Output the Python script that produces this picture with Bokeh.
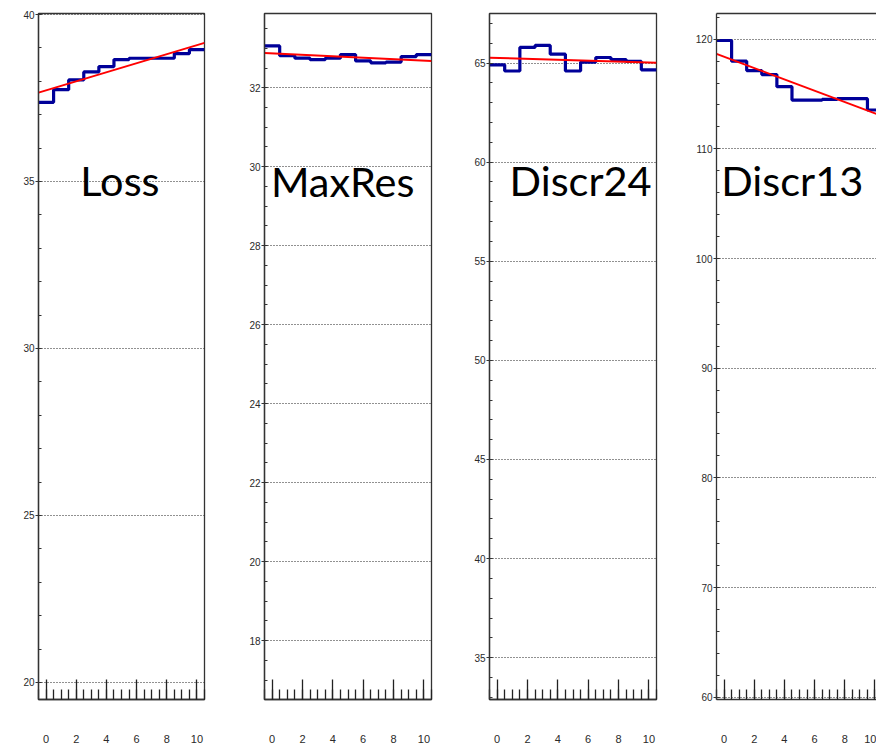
from bokeh.plotting import figure
from bokeh.layouts import row
from bokeh.models import FixedTicker, Label, LinearAxis
from bokeh.embed import file_html
from bokeh.resources import INLINE

# Bin centres shared by every panel (11 bins of width 1)
bin_centers = [0, 1, 2, 3, 4, 5, 6, 7, 8, 9, 10]
x_ticks = [0, 2, 4, 6, 8, 10]

# Per-bin values of each quantity
loss_values = [37.37, 37.75, 38.04, 38.28, 38.44, 38.65, 38.69, 38.69, 38.69, 38.83, 38.95]
maxres_values = [33.06, 32.81, 32.75, 32.71, 32.75, 32.84, 32.68, 32.63, 32.65, 32.79, 32.84]
discr24_values = [64.91, 64.60, 65.79, 65.89, 65.45, 64.60, 65.05, 65.28, 65.18, 65.08, 64.66]
discr13_values = [119.88, 117.99, 117.14, 116.77, 115.67, 114.45, 114.45, 114.51, 114.57, 114.57, 113.54]

# Linear fit values at the left and right histogram edges
loss_fit = [37.66, 39.15]
maxres_fit = [32.88, 32.68]
discr24_fit = [65.27, 65.02]
discr13_fit = [118.66, 112.97]

# y-axis tick labels (major) for each panel
loss_yticks = [20, 25, 30, 35, 40]
maxres_yticks = [18, 20, 22, 24, 26, 28, 30, 32]
discr24_yticks = [35, 40, 45, 50, 55, 60, 65]
discr13_yticks = [60, 70, 80, 90, 100, 110, 120]

FRAME = "#333333"
TICK_FONT = "Liberation Sans"


def frange(a, b, step):
    out = []
    v = a
    while v <= b + 1e-9:
        out.append(round(v, 4))
        v += step
    return out


def panel(values, fit, yticks, yminor_step, y_range, x_end, title, title_xy,
          width, border_left, border_right, outline=True):
    edges = [c - 0.5 for c in bin_centers] + [bin_centers[-1] + 0.5]
    p = figure(width=width, height=746, x_range=(-0.5, x_end), y_range=y_range,
               output_backend="svg", toolbar_location=None,
               min_border_left=border_left, min_border_right=border_right,
               min_border_top=13, min_border_bottom=47)
    p.background_fill_color = "white"
    p.border_fill_color = "white"
    p.outline_line_color = FRAME if outline else None
    p.outline_line_width = 1.3

    # x axis: long ticks pointing into the frame, labels far below
    xa = p.xaxis[0]
    xa.ticker = FixedTicker(ticks=x_ticks, minor_ticks=frange(-0.5, 10.5, 0.5))
    xa.major_tick_in = 20
    xa.major_tick_out = 0
    xa.minor_tick_in = 10
    xa.minor_tick_out = 0
    xa.major_tick_line_color = "#222222"
    xa.minor_tick_line_color = "#222222"
    xa.major_tick_line_width = 1.3
    xa.minor_tick_line_width = 1.3
    xa.axis_line_color = FRAME
    xa.axis_line_width = 1.5
    xa.major_label_standoff = 35
    xa.major_label_text_font = TICK_FONT
    xa.major_label_text_font_size = "11px"
    xa.major_label_text_color = "#2a2a2a"

    ya = p.yaxis[0]
    ya.ticker = FixedTicker(ticks=yticks,
                            minor_ticks=frange(yticks[0] - 2 * yminor_step,
                                               yticks[-1] + 3 * yminor_step, yminor_step))
    ya.major_tick_in = 3
    ya.major_tick_out = 3
    ya.minor_tick_in = 3
    ya.minor_tick_out = 0
    ya.major_tick_line_color = "#333333"
    ya.minor_tick_line_color = "#333333"
    ya.axis_line_color = FRAME
    ya.axis_line_width = 1.3
    ya.major_label_standoff = 1
    ya.major_label_text_font = TICK_FONT
    ya.major_label_text_font_size = "10px"
    ya.major_label_text_color = "#2a2a2a"

    p.xgrid.visible = False
    p.ygrid.ticker = FixedTicker(ticks=yticks)
    p.ygrid.grid_line_color = "#222222"
    p.ygrid.grid_line_dash = "1 2"
    p.ygrid.grid_line_width = 1

    if not outline:
        # top edge of the frame (right edge lies outside the page)
        top = LinearAxis(major_tick_in=0, major_tick_out=0, minor_tick_in=0,
                         minor_tick_out=0, major_label_text_font_size="0px",
                         axis_line_color=FRAME, axis_line_width=1.3)
        top.ticker = FixedTicker(ticks=[])
        p.add_layout(top, "above")
        p.min_border_top = 13

    step_y = list(values) + [values[-1]]
    p.step(edges, step_y, mode="after", line_color="#000099", line_width=3.2)
    p.line([edges[0], edges[-1]], fit, line_color="#ff0000", line_width=2)

    p.add_layout(Label(x=title_xy[0], y=title_xy[1], text=title,
                       text_font="Lato", text_font_size="41.5px",
                       text_color="black", text_align="left",
                       text_baseline="alphabetic", y_offset=18))
    return p


p1 = panel(loss_values, loss_fit, loss_yticks, 1, (19.49, 40.03), 10.5,
           "Loss", (2.27, 34.50), 214, 38, 10)
p2 = panel(maxres_values, maxres_fit, maxres_yticks, 0.5, (16.51, 33.88), 10.5,
           "MaxRes", (-0.08, 29.19), 227, 50, 10)
p3 = panel(discr24_values, discr24_fit, discr24_yticks, 1, (32.89, 67.5), 10.5,
           "Discr24", (0.82, 58.18), 225, 48, 10)
p4 = panel(discr13_values, discr13_fit, discr13_yticks, 2, (59.79, 122.34), 10.10,
           "Discr13", (-0.19, 105.5), 210, 50, 0, outline=False)

layout = row(p1, p2, p3, p4, spacing=0)

open("out.html", "w").write(file_html(layout, INLINE))
